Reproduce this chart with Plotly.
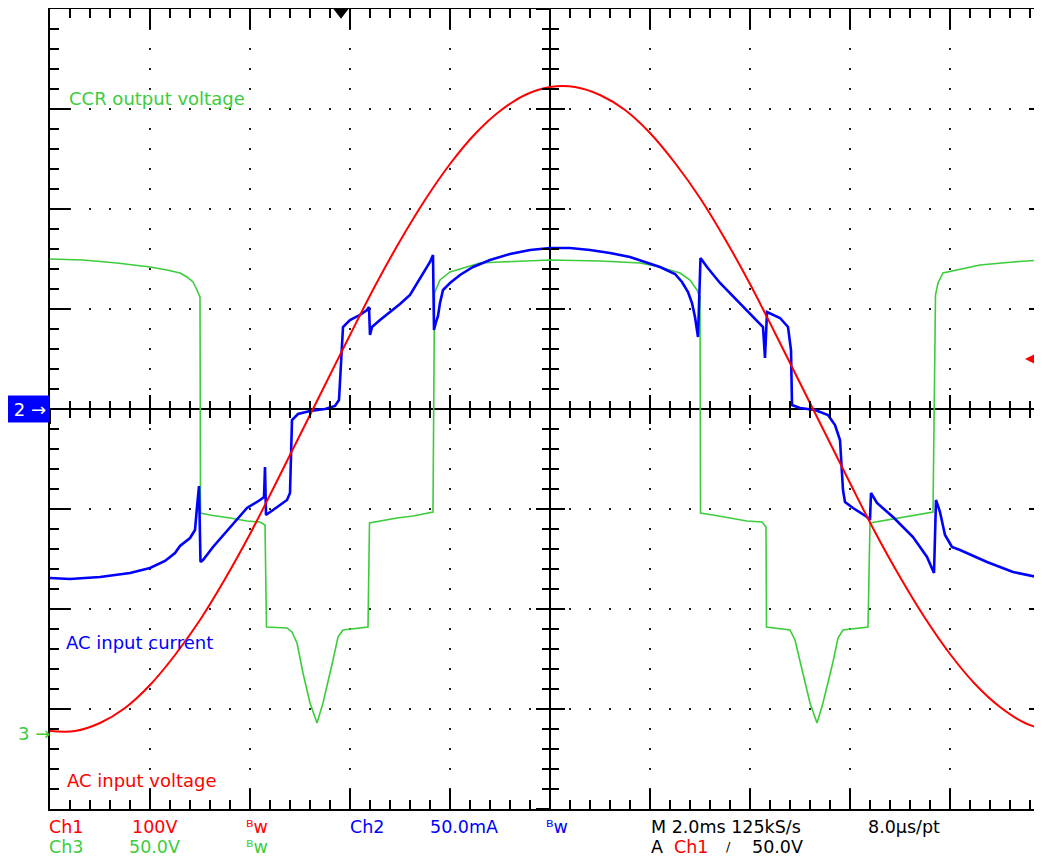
import plotly.graph_objects as go

# ---- data (time in ms, amplitude in screen divisions) ----
# AC input voltage (Ch1, 100 V/div)
volt_t = [-10, -9.5, -9, -8.5, -8, -7.5, -7, -6.5, -6, -5.5, -5, -4.5, -4, -3.5, -3, -2.5, -2, -1.5, -1, -0.5,
          0, 0.5, 1, 1.5, 2, 2.5, 3, 3.5, 4, 4.5, 5, 5.5, 6, 6.5, 7, 7.5, 8, 8.5, 9, 9.5, 10]
volt_div = [-3.22, -3.22, -3.14, -2.99, -2.76, -2.46, -2.11, -1.70, -1.25, -0.76, -0.26, 0.24, 0.74, 1.23, 1.68,
            2.09, 2.45, 2.75, 2.98, 3.14, 3.22, 3.22, 3.14, 2.99, 2.76, 2.46, 2.11, 1.70, 1.25, 0.76, 0.26,
            -0.24, -0.74, -1.23, -1.68, -2.09, -2.45, -2.75, -2.98, -3.14, -3.22]

# AC input current (Ch2, 50 mA/div)
curr_t = [-10.00, -9.60, -9.00, -8.40, -8.00, -7.70, -7.50, -7.40, -7.20, -7.10, -7.06, -7.02, -6.99, -6.94,
          -6.74, -6.40, -6.06, -5.80, -5.72, -5.70, -5.68, -5.54, -5.40, -5.26, -5.20, -5.18, -5.16, -5.04,
          -4.80, -4.50, -4.30, -4.22, -4.18, -4.14, -4.00, -3.80, -3.66, -3.62, -3.60, -3.56, -3.40, -3.20,
          -3.00, -2.80, -2.54, -2.40, -2.34, -2.32, -2.28, -2.24, -2.20, -2.14, -2.00, -1.80, -1.54, -1.20,
          -0.80, -0.40, 0.00, 0.40, 0.80, 1.20, 1.60, 1.90, 2.20, 2.50, 2.64, 2.76, 2.84, 2.90, 2.96, 3.01,
          3.14, 3.40, 3.60, 3.80, 4.06, 4.26, 4.30, 4.34, 4.60, 4.76, 4.82, 4.84, 5.00, 5.30, 5.56, 5.70,
          5.80, 5.82, 5.86, 5.90, 6.06, 6.34, 6.40, 6.42, 6.54, 6.86, 7.26, 7.54, 7.68, 7.72, 7.80, 7.90,
          8.04, 8.20, 8.34, 8.74, 9.26, 9.84]
curr_div = [-1.69, -1.70, -1.68, -1.64, -1.59, -1.52, -1.44, -1.37, -1.29, -1.21, -0.98, -0.77, -1.53, -1.51,
            -1.38, -1.19, -0.99, -0.91, -0.88, -0.58, -1.06, -1.01, -0.96, -0.91, -0.84, -0.31, -0.11, -0.05,
            -0.02, 0.00, 0.03, 0.09, 0.44, 0.82, 0.89, 0.94, 0.99, 1.02, 0.74, 0.82, 0.89, 0.97,
            1.05, 1.14, 1.36, 1.47, 1.54, 0.79, 0.87, 0.93, 1.06, 1.19, 1.26, 1.34, 1.42, 1.49,
            1.55, 1.59, 1.61, 1.61, 1.59, 1.56, 1.52, 1.47, 1.42, 1.35, 1.27, 1.17, 1.06, 0.92, 0.72, 1.51,
            1.42, 1.26, 1.16, 1.06, 0.92, 0.82, 0.51, 0.97, 0.91, 0.82, 0.59, 0.04, 0.01, -0.01, -0.06, -0.16,
            -0.31, -0.51, -0.81, -0.93, -0.99, -1.08, -1.11, -0.84, -0.94, -1.08, -1.28, -1.48, -1.64, -0.91,
            -1.03, -1.26, -1.38, -1.41, -1.44, -1.53, -1.63, -1.69]

# CCR output voltage (Ch3, 50 V/div, ground at -3.24 div)
ccr_t = [-10.00, -9.34, -8.66, -8.26, -8.00, -7.66, -7.40, -7.26, -7.14, -7.06, -7.00, -6.99, -6.80, -6.40,
         -6.06, -5.80, -5.70, -5.67, -5.26, -5.16, -5.06, -4.94, -4.80, -4.66, -4.54, -4.34, -4.24, -4.14,
         -3.64, -3.61, -3.40, -3.06, -2.74, -2.34, -2.31, -2.20, -2.00, -1.66, -1.40, -1.00, 0.00, 1.00,
         1.80, 2.20, 2.60, 2.80, 2.94, 3.00, 3.01, 3.26, 3.60, 3.94, 4.24, 4.32, 4.33, 4.80, 4.90, 5.06,
         5.20, 5.34, 5.46, 5.66, 5.76, 5.86, 6.36, 6.40, 6.74, 7.26, 7.66, 7.71, 7.76, 7.86, 8.14, 8.60,
         9.26, 9.84]
ccr_div = [1.50, 1.49, 1.46, 1.44, 1.42, 1.39, 1.36, 1.32, 1.27, 1.19, 1.12, -1.04, -1.06, -1.09,
           -1.12, -1.13, -1.16, -2.18, -2.19, -2.23, -2.34, -2.64, -2.94, -3.14, -2.94, -2.51, -2.28, -2.21,
           -2.18, -1.14, -1.12, -1.09, -1.07, -1.03, 1.16, 1.29, 1.37, 1.42, 1.46, 1.47, 1.49, 1.48,
           1.46, 1.42, 1.36, 1.29, 1.19, 1.12, -1.04, -1.06, -1.09, -1.12, -1.13, -1.18, -2.18, -2.21, -2.31, -2.63,
           -2.94, -3.14, -2.94, -2.53, -2.29, -2.21, -2.18, -1.14, -1.11, -1.06, -1.03, 1.14, 1.26, 1.36, 1.39, 1.44,
           1.47, 1.49]

# reference markers (divisions / ms)
ch2_ground = 0.0
ch3_ground = -3.24
trig_level = 0.5
trig_time = -4.18

RED = "#ff0000"
BLUE = "#0000ff"
GREEN = "#3ccc3c"
FONT = "DejaVu Sans"

XR = [-10, 9.68]
YR = [-4, 4]

fig = go.Figure()
fig.add_trace(go.Scatter(x=ccr_t, y=ccr_div, mode="lines", line=dict(color=GREEN, width=1.6),
                         hoverinfo="skip", showlegend=False))
fig.add_trace(go.Scatter(x=curr_t, y=curr_div, mode="lines", line=dict(color=BLUE, width=2.6),
                         hoverinfo="skip", showlegend=False))
fig.add_trace(go.Scatter(x=volt_t, y=volt_div, mode="lines", line=dict(color=RED, width=2, shape="spline"),
                         hoverinfo="skip", showlegend=False))
# trigger position marker at top edge
fig.add_trace(go.Scatter(x=[trig_time], y=[YR[1] - 0.0325], mode="markers", cliponaxis=False,
                         marker=dict(symbol="triangle-down", size=13, color="black", line=dict(width=0)),
                         hoverinfo="skip", showlegend=False))

# dummy invisible traces so overlay axes are rendered
for xa, ya in [("x2", "y"), ("x3", "y"), ("x", "y2"), ("x", "y3"), ("x", "y4")]:
    fig.add_trace(go.Scatter(x=[0], y=[0], xaxis=xa, yaxis=ya, mode="markers",
                             marker=dict(opacity=0), hoverinfo="skip", showlegend=False))

grid = dict(showgrid=True, gridcolor="#222", gridwidth=2, griddash="1px,18px,1px,0px")
K = "black"

fig.update_layout(
    width=1026, height=849,
    margin=dict(l=42, r=0, t=1, b=48),
    paper_bgcolor="white", plot_bgcolor="white",
    xaxis=dict(range=XR, dtick=2, tick0=-10, showticklabels=False,
               showline=True, linecolor=K, linewidth=2, mirror="ticks",
               ticks="inside", ticklen=20, tickwidth=2, tickcolor=K,
               minor=dict(dtick=0.4, tick0=-10, ticks="inside", ticklen=9, tickwidth=2, tickcolor=K,
                          showgrid=False),
               zeroline=True, zerolinecolor=K, zerolinewidth=2, **grid),
    yaxis=dict(range=YR, dtick=1, tick0=-4, showticklabels=False,
               showline=True, linecolor=K, linewidth=2,
               ticks="inside", ticklen=20, tickwidth=2, tickcolor=K,
               minor=dict(dtick=0.2, tick0=-4, ticks="inside", ticklen=9, tickwidth=2, tickcolor=K,
                          showgrid=False),
               zeroline=True, zerolinecolor=K, zerolinewidth=2, **grid),
    xaxis2=dict(range=XR, overlaying="x", anchor="free", position=0.5, side="bottom",
                dtick=2, tick0=-10, ticks="inside", ticklen=14, tickwidth=2, tickcolor=K,
                minor=dict(dtick=0.4, tick0=-10, ticks="inside", ticklen=8, tickwidth=2, tickcolor=K),
                showline=False, showgrid=False, zeroline=False, showticklabels=False),
    xaxis3=dict(range=XR, overlaying="x", anchor="free", position=0.5, side="bottom",
                dtick=2, tick0=-10, ticks="outside", ticklen=14, tickwidth=2, tickcolor=K,
                minor=dict(dtick=0.4, tick0=-10, ticks="outside", ticklen=8, tickwidth=2, tickcolor=K),
                showline=False, showgrid=False, zeroline=False, showticklabels=False),
    yaxis2=dict(range=YR, overlaying="y", anchor="free", position=500 / 984, side="left",
                dtick=1, tick0=-4, ticks="inside", ticklen=14, tickwidth=2, tickcolor=K,
                minor=dict(dtick=0.2, tick0=-4, ticks="inside", ticklen=8, tickwidth=2, tickcolor=K),
                showline=False, showgrid=False, zeroline=False, showticklabels=False),
    yaxis3=dict(range=YR, overlaying="y", anchor="free", position=500 / 984, side="left",
                dtick=1, tick0=-4, ticks="outside", ticklen=14, tickwidth=2, tickcolor=K,
                minor=dict(dtick=0.2, tick0=-4, ticks="outside", ticklen=8, tickwidth=2, tickcolor=K),
                showline=False, showgrid=False, zeroline=False, showticklabels=False),
    yaxis4=dict(range=YR, overlaying="y", anchor="free", position=1, side="right",
                dtick=1, tick0=-4, ticks="inside", ticklen=5, tickwidth=2, tickcolor=K,
                showline=False, showgrid=False, zeroline=False, showticklabels=False),
)

ann = []


def txt(x, y, s, color, size=18, xref="x", yref="y", xanchor="left", yanchor="middle", **kw):
    ann.append(dict(x=x, y=y, xref=xref, yref=yref, text=s, showarrow=False, xanchor=xanchor,
                    yanchor=yanchor, borderpad=0, borderwidth=0,
                    font=dict(family=FONT, size=size, color=color), **kw))


# trace labels
txt(-9.62, 3.11, "CCR output voltage", GREEN)
txt(-9.68, -2.33, "AC input current", BLUE)
txt(-9.66, -3.71, "AC input voltage", RED)

# bottom status lines (paper coordinates, anchored at the bottom of each text box)
R1, R2 = -0.0350, -0.0595
BW = "ᴮw"
S = 17.5
for x, y, s, c in [
    (-0.001, R1, "Ch1", RED), (0.0830, R1, "100V", RED), (0.1989, R1, BW, RED),
    (0.3046, R1, "Ch2", BLUE), (0.3859, R1, "50.0mA", BLUE), (0.5044, R1, BW, BLUE),
    (0.6105, R1, "M 2.0ms 125kS/s", K), (0.8316, R1, "8.0µs/pt", K),
    (-0.001, R2, "Ch3", GREEN), (0.0803, R2, "50.0V", GREEN), (0.1989, R2, BW, GREEN),
    (0.6105, R2, "A", K), (0.6341, R2, "Ch1", RED), (0.7137, R2, "50.0V", K),
]:
    txt(x, y, s, c, size=S, xref="paper", yref="paper", yanchor="bottom")
txt(0.6870, R2 + 0.003, "/", K, size=13, xref="paper", yref="paper", yanchor="bottom")

# channel ground markers
ann.append(dict(x=0, y=ch2_ground, xref="paper", yref="y", text="2 →", showarrow=False,
                xanchor="right", yanchor="middle", align="right", width=35, height=20, borderpad=3,
                bgcolor=BLUE, font=dict(family=FONT, size=18, color="white")))
txt(0, ch3_ground, "3 →", GREEN, xref="paper", xanchor="right")
# trigger level arrow on the right edge
ann.append(dict(x=(1025 - 50) / 984, y=trig_level, xref="paper", yref="y", text="", showarrow=True,
                ax=14, ay=0, arrowhead=2, arrowsize=1.3, arrowwidth=2, arrowcolor=RED))

fig.update_layout(annotations=ann)
fig.write_html("out.html")
